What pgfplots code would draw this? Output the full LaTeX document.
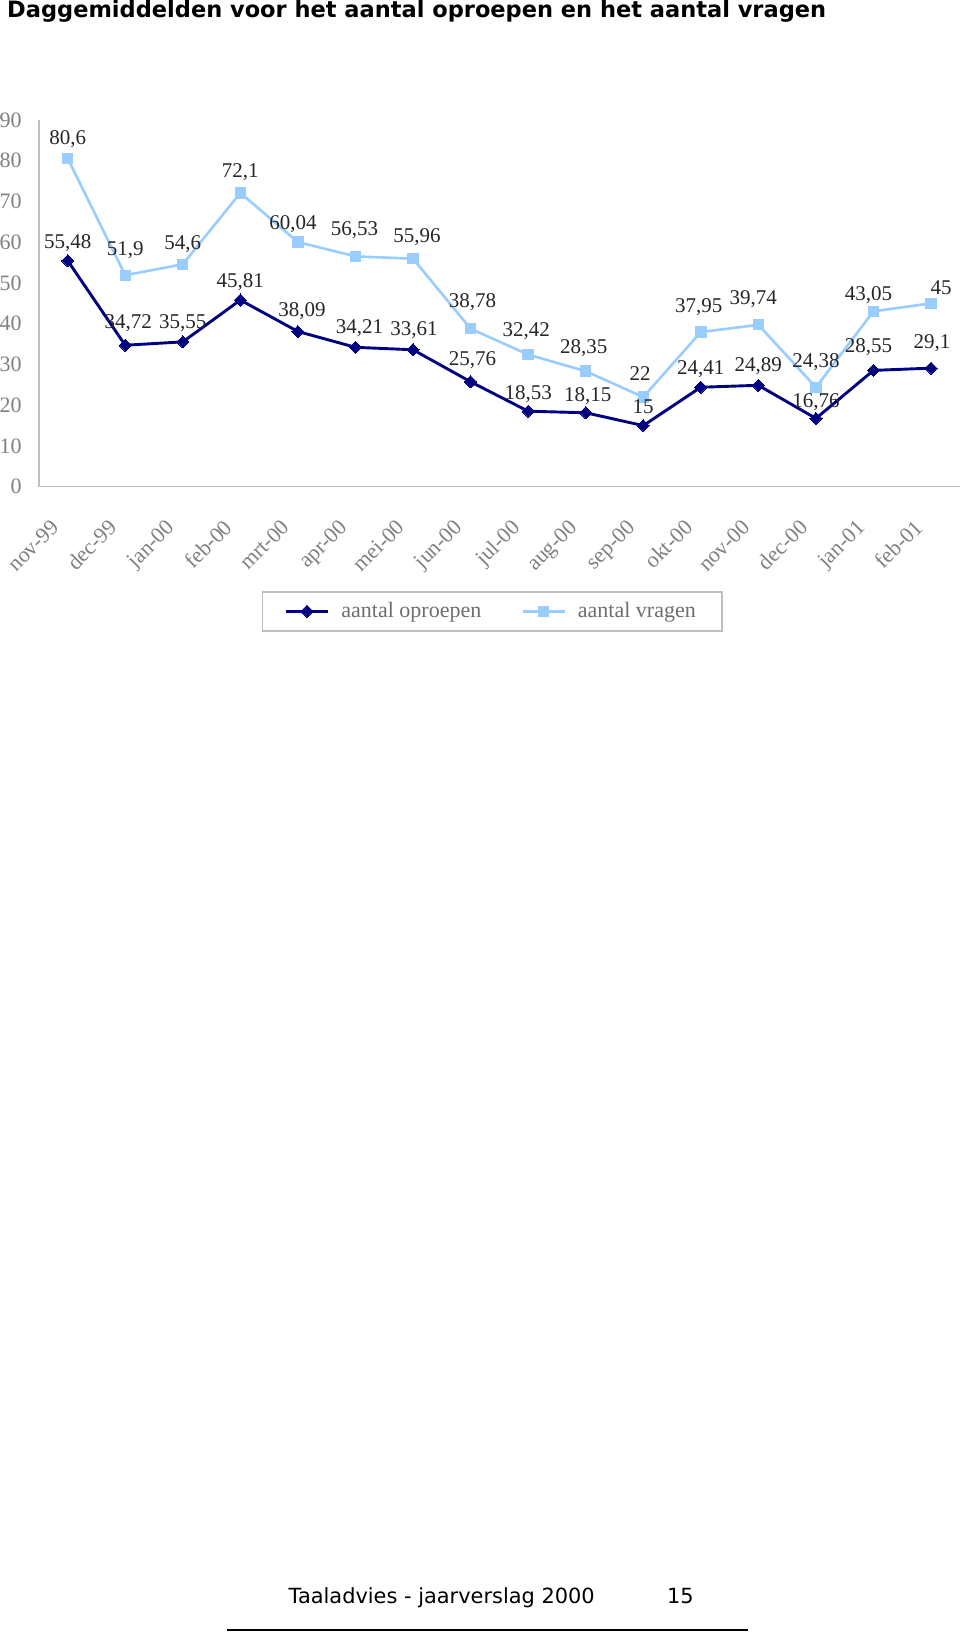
\documentclass[border=0pt]{standalone}
\usepackage{fontspec}
\setmainfont{Liberation Serif}
\newfontfamily\verd{DejaVu Sans}
\usepackage{pgfplots}
\usepackage{pgfplotstable}
\pgfplotsset{compat=1.18}
\definecolor{navy}{RGB}{0,0,128}
\definecolor{lblue}{RGB}{153,204,255}
\definecolor{axgray}{RGB}{191,191,191}
\definecolor{txtgray}{RGB}{128,128,128}
\definecolor{leggray}{RGB}{110,110,110}
% label helper: dx, dy in pixels (1px = 0.5pt), label centre relative to point
\protected\def\lab#1#2#3{\hbox to 0pt{\kern\dimexpr#1pt/2\relax\makebox[0pt]{\raisebox{\dimexpr#2pt/2-3.55pt\relax}{#3}}\hss}}

\pgfplotstableread{
x y lbl
0 80.6 \lab{0}{21}{80,6}
1 51.9 \lab{0}{27}{51,9}
2 54.6 \lab{0}{22}{54,6}
3 72.1 \lab{0}{23}{72,1}
4 60.04 \lab{-5}{20}{60,04}
5 56.53 \lab{-1}{28}{56,53}
6 55.96 \lab{4}{23}{55,96}
7 38.78 \lab{2}{28}{38,78}
8 32.42 \lab{-2}{25}{32,42}
9 28.35 \lab{-2}{25}{28,35}
10 22 \lab{-3}{24}{22}
11 37.95 \lab{-2}{27}{37,95}
12 39.74 \lab{-5}{27}{39,74}
13 24.38 \lab{0}{27}{24,38}
14 43.05 \lab{-5}{18}{43,05}
15 45 \lab{10}{16}{45}
}\vragen

\pgfplotstableread{
x y lbl
0 55.48 \lab{0}{19.5}{55,48}
1 34.72 \lab{3}{24}{34,72}
2 35.55 \lab{0}{20}{35,55}
3 45.81 \lab{0}{20}{45,81}
4 38.09 \lab{4}{22}{38,09}
5 34.21 \lab{4}{21}{34,21}
6 33.61 \lab{1}{21}{33,61}
7 25.76 \lab{2}{23.5}{25,76}
8 18.53 \lab{0}{19}{18,53}
9 18.15 \lab{2}{18}{18,15}
10 15 \lab{0}{19}{15}
11 24.41 \lab{0}{20}{24,41}
12 24.89 \lab{0}{21}{24,89}
13 16.76 \lab{0}{18}{16,76}
14 28.55 \lab{-5}{25}{28,55}
15 29.1 \lab{1}{27}{29,1}
}\oproepen

\pgfplotsset{
  lbls/.style={
    point meta=explicit symbolic,
    nodes near coords,
    every node near coord/.append style={anchor=base, inner sep=0pt, font=\fontsize{10.5}{12}\selectfont, text=black!85},
  }
}

\begin{document}
\begin{tikzpicture}
\useasboundingbox (0,0) rectangle (480pt,-816pt);
\node[anchor=base west, inner sep=0pt, font=\verd\bfseries\fontsize{11.25}{13}\selectfont] at (3.4pt,-8.65pt) {Daggemiddelden voor het aantal oproepen en het aantal vragen};
\begin{axis}[
  at={(19.45pt,-243.35pt)}, anchor=south west,
  scale only axis, width=460.45pt, height=183.35pt,
  xmin=-0.5, xmax=15.5, ymin=0, ymax=90,
  axis x line*=bottom, axis y line*=left,
  axis line style={-, draw=axgray, line width=0.75pt},
  major tick length=0pt,
  xtick={0,...,15},
  xticklabels={nov-99,dec-99,jan-00,feb-00,mrt-00,apr-00,mei-00,jun-00,jul-00,aug-00,sep-00,okt-00,nov-00,dec-00,jan-01,feb-01},
  ytick={0,10,...,90},
  x tick label style={font=\fontsize{11}{13}\selectfont, text=txtgray, inner sep=0pt, xshift=-8.8pt, yshift=-15.5pt, rotate=45, anchor=north east},
  y tick label style={font=\fontsize{11}{13}\selectfont, text=txtgray, inner sep=0pt, xshift=-8.45pt, anchor=east},
  /pgf/number format/assume math mode=true,
  clip=false,
  reverse legend,
  legend columns=2,
  legend cell align=left,
  legend style={at={(0.4922,-0.3398)}, anchor=center, draw=axgray, line width=0.75pt, font=\fontsize{11}{13}\selectfont, text=leggray, inner xsep=11pt, inner ysep=3.2pt, /tikz/every odd column/.append style={column sep=4pt}, /tikz/every even column/.append style={column sep=18pt}},
  legend image code/.code={\draw[mark repeat=2,mark phase=2,#1] plot coordinates {(0pt,0pt) (10.5pt,0pt) (21pt,0pt)};},
]
\addplot[lbls, color=lblue, line width=1.3pt, mark=square*, mark size=2.6pt, mark options={fill=lblue, draw=lblue, line width=0pt}] table[x=x, y=y, meta=lbl] {\vragen};
\addlegendentry{aantal vragen}
\addplot[lbls, color=navy, line width=1.45pt, mark=square*, mark size=2.15pt, mark options={rotate=45, fill=navy, draw=navy, line width=0pt}] table[x=x, y=y, meta=lbl] {\oproepen};
\addlegendentry{aantal oproepen}
\end{axis}
\node[anchor=base west, inner sep=0pt, font=\verd\fontsize{10.45}{13}\selectfont] at (144.15pt,-801.65pt) {Taaladvies - jaarverslag 2000};
\node[anchor=base west, inner sep=0pt, font=\verd\fontsize{10.45}{13}\selectfont] at (333.35pt,-801.65pt) {15};
\draw[line width=1pt] (113.35pt,-815pt) -- (373.85pt,-815pt);
\end{tikzpicture}
\end{document}
